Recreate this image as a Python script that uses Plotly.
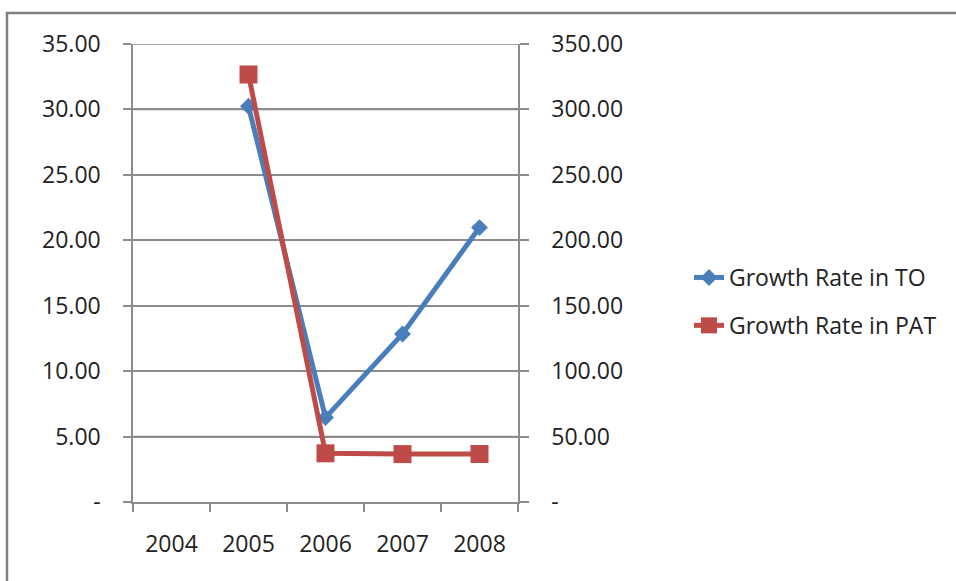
import plotly.graph_objects as go

# Category axis and series values
years = ["2004", "2005", "2006", "2007", "2008"]
to_years = ["2005", "2006", "2007", "2008"]
growth_to = [30.24, 6.45, 12.84, 20.97]
pat_years = ["2005", "2006", "2007", "2008"]
growth_pat = [326.7, 37.2, 36.6, 36.7]

left_ticks = [0, 5, 10, 15, 20, 25, 30, 35]
left_labels = ["-", "5.00", "10.00", "15.00", "20.00", "25.00", "30.00", "35.00"]
right_ticks = [0, 50, 100, 150, 200, 250, 300, 350]
right_labels = ["-", "50.00", "100.00", "150.00", "200.00", "250.00", "300.00", "350.00"]

BLUE = "#4A7EBB"
RED = "#BE4B48"
GRID = "#8C8C8C"
TEXT = "#222222"
FONT = "Open Sans"
PAD = "\u00a0\u00a0\u00a0"  # gap between value labels and the axis ticks

fig = go.Figure()
fig.add_trace(go.Scatter(
    x=to_years, y=growth_to, name="Growth Rate in TO", mode="lines+markers",
    line=dict(color=BLUE, width=5), marker=dict(symbol="diamond", size=13, color=BLUE),
    legendgroup="to", yaxis="y",
))
fig.add_trace(go.Scatter(
    x=pat_years, y=growth_pat, name="Growth Rate in PAT", mode="lines+markers",
    line=dict(color=RED, width=5), marker=dict(symbol="square", size=18, color=RED),
    legendgroup="pat", yaxis="y2",
))

W, H = 956, 581
L, R, T, B = 133, 518, 44, 502
pw, ph = R - L, B - T


def px(x):
    return (x - L) / pw


def py(y):
    return (B - y) / ph


# horizontal gridlines at each left-axis tick value
grid_shapes = [
    dict(type="line", xref="paper", yref="y", x0=0, x1=1, y0=v, y1=v,
         line=dict(color=GRID, width=1.5), layer="between")
    for v in left_ticks[1:]
]

frame = dict(
    type="rect", xref="paper", yref="paper",
    x0=px(7), x1=px(980), y0=py(600), y1=py(13),
    line=dict(color="#7F7F7F", width=2.5), fillcolor="rgba(0,0,0,0)",
    layer="above",
)

fig.update_layout(
    width=W, height=H,
    margin=dict(l=L, r=W - R, t=T, b=H - B, pad=0),
    paper_bgcolor="white", plot_bgcolor="rgba(0,0,0,0)",
    font=dict(family=FONT, size=23, color=TEXT),
    showlegend=True,
    legend=dict(
        x=px(689), y=py(256), xanchor="left", yanchor="top",
        font=dict(family=FONT, size=23, color=TEXT),
        traceorder="grouped", tracegroupgap=15,
        bgcolor="rgba(0,0,0,0)",
    ),
    xaxis=dict(
        type="category", categoryorder="array", categoryarray=years,
        range=[-0.5, 4.5], tickson="boundaries",
        showline=True, linecolor=GRID, linewidth=1.5,
        ticks="outside", ticklen=8, tickcolor=GRID, tickwidth=1.5,
        showgrid=False, zeroline=False, ticklabelstandoff=21,
        tickfont=dict(family=FONT, size=23, color=TEXT),
    ),
    yaxis=dict(
        range=[0, 35], tickmode="array", tickvals=left_ticks,
        ticktext=[t + PAD for t in left_labels],
        showline=True, linecolor=GRID, linewidth=1.5,
        ticks="outside", ticklen=8, tickcolor=GRID, tickwidth=1.5,
        showgrid=True, gridcolor=GRID, gridwidth=1.5, zeroline=False,
        tickfont=dict(family=FONT, size=23, color=TEXT),
    ),
    yaxis2=dict(
        range=[0, 350], tickmode="array", tickvals=right_ticks,
        ticktext=[PAD + t for t in right_labels],
        overlaying="y", side="right",
        showline=True, linecolor=GRID, linewidth=1.5,
        ticks="outside", ticklen=9, tickcolor=GRID, tickwidth=1.5,
        showgrid=False, zeroline=False,
        tickfont=dict(family=FONT, size=23, color=TEXT),
    ),
    shapes=grid_shapes + [frame],
)

fig.write_html("out.html")
